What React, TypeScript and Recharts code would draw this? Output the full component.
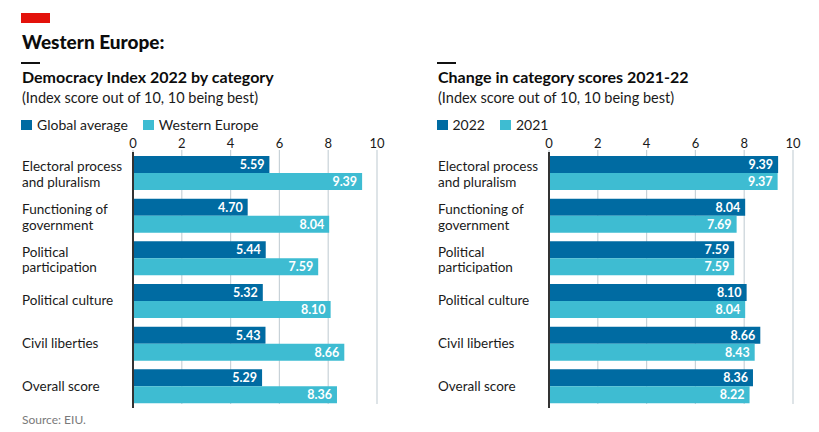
import { BarChart, Bar, XAxis, YAxis, CartesianGrid, Legend, LabelList, ReferenceLine } from 'recharts';

const categories: string[] = [
  'Electoral process and pluralism',
  'Functioning of government',
  'Political participation',
  'Political culture',
  'Civil liberties',
  'Overall score',
];

// how each category name is broken over lines on the axis
const categoryLines: string[][] = [
  ['Electoral process', 'and pluralism'],
  ['Functioning of', 'government'],
  ['Political', 'participation'],
  ['Political culture'],
  ['Civil liberties'],
  ['Overall score'],
];

const globalAverage: number[] = [5.59, 4.7, 5.44, 5.32, 5.43, 5.29];
const westernEurope: number[] = [9.39, 8.04, 7.59, 8.1, 8.66, 8.36];
const scores2022: number[] = [9.39, 8.04, 7.59, 8.1, 8.66, 8.36];
const scores2021: number[] = [9.37, 7.69, 7.59, 8.04, 8.43, 8.22];

const xTicks: number[] = [0, 2, 4, 6, 8, 10];

const DARK = '#006BA2';
const LIGHT = '#3EBCD2';
const FONT = 'Lato, "Open Sans", sans-serif';
const LEGEND_H = 14;

const leftData = categories.map((name, i) => ({ name, a: globalAverage[i], b: westernEurope[i] }));
const rightData = categories.map((name, i) => ({ name, a: scores2022[i], b: scores2021[i] }));

const CategoryTick = (props: any) => {
  const { y, payload } = props;
  const idx = categories.indexOf(payload.value);
  const lines = categoryLines[idx] || [payload.value];
  const first = lines.length > 1 ? y - 2 : y + 4;
  return (
    <text x={22} y={first} fill='#1a1a1a' fontSize={13.5} fontFamily={FONT} textAnchor='start'>
      {lines.map((l, k) => (
        <tspan key={k} x={22} y={first + k * 15.6}>
          {l}
        </tspan>
      ))}
    </text>
  );
};

const ValueTick = (props: any) => {
  const { x, y, payload } = props;
  return (
    <text x={x} y={y - 4} fill='#1a1a1a' fontSize={13} fontFamily={FONT} textAnchor='middle'>
      {payload.value}
    </text>
  );
};

const makeLegend = (names: string[]) => () => (
  <div style={{ display: 'flex', fontFamily: FONT, fontSize: 14, color: '#1a1a1a', lineHeight: `${LEGEND_H}px`, height: LEGEND_H }}>
    {names.map((n, i) => (
      <div key={n} style={{ display: 'flex', alignItems: 'center', marginRight: 15 }}>
        <span style={{ display: 'inline-block', width: 11, height: 10, background: i === 0 ? DARK : LIGHT, marginRight: 5 }} />
        <span>{n}</span>
      </div>
    ))}
  </div>
);

interface PanelProps {
  data: { name: string; a: number; b: number }[];
  legend: string[];
}

const Panel = ({ data, legend }: PanelProps) => (
  <BarChart
    width={404}
    height={432}
    data={data}
    layout='vertical'
    barSize={17}
    barGap={0}
    margin={{ top: 122 - LEGEND_H, right: 27, left: 0, bottom: 24 }}
  >
    <CartesianGrid horizontal={false} stroke='#c8d2d8' strokeWidth={1.2} y={150} height={254} />
    <XAxis
      type='number'
      orientation='top'
      domain={[0, 10]}
      ticks={xTicks}
      axisLine={false}
      tickLine={false}
      tickSize={0}
      tickMargin={0}
      tick={<ValueTick />}
      height={30}
    />
    <YAxis
      type='category'
      dataKey='name'
      width={133}
      axisLine={false}
      tickLine={false}
      tick={<CategoryTick />}
      interval={0}
    />
    <Legend
      verticalAlign='top'
      align='left'
      content={makeLegend(legend)}
      wrapperStyle={{ position: 'absolute', top: 118, left: 21, width: 360, height: LEGEND_H }}
    />
    <ReferenceLine x={0} stroke='#333333' strokeWidth={2} />
    <Bar dataKey='a' name={legend[0]} fill={DARK} isAnimationActive={false}>
      <LabelList
        dataKey='a'
        position='insideRight'
        offset={5}
        fill='#ffffff'
        fontSize={12.5}
        fontFamily={FONT}
        fontWeight={700}
        formatter={(v: any) => Number(v).toFixed(2)}
      />
    </Bar>
    <Bar dataKey='b' name={legend[1]} fill={LIGHT} isAnimationActive={false}>
      <LabelList
        dataKey='b'
        position='insideRight'
        offset={5}
        fill='#ffffff'
        fontSize={12.5}
        fontFamily={FONT}
        fontWeight={700}
        formatter={(v: any) => Number(v).toFixed(2)}
      />
    </Bar>
  </BarChart>
);

const Heading = ({ left, title, sub }: { left: number; title: string; sub: string }) => (
  <>
    <div style={{ position: 'absolute', left, top: 62, width: 19, height: 1.5, background: '#111' }} />
    <div style={{ position: 'absolute', left: left + 1, top: 67, fontFamily: FONT, fontWeight: 700, fontSize: 16, color: '#0c0c0c', whiteSpace: 'nowrap' }}>
      {title}
    </div>
    <div style={{ position: 'absolute', left: left + 1, top: 89, fontFamily: FONT, fontSize: 14.5, color: '#1a1a1a', whiteSpace: 'nowrap' }}>
      {sub}
    </div>
  </>
);

export default function App() {
  return (
    <div style={{ position: 'absolute', left: 0, top: 0, width: 819, height: 432, overflow: 'hidden', background: '#fff' }}>
      <div style={{ position: 'absolute', left: 21, top: 13, width: 29, height: 10, background: '#E3120B' }} />
      <div style={{ position: 'absolute', left: 22, top: 30, fontFamily: FONT, fontWeight: 900, fontSize: 19, color: '#0c0c0c' }}>
        Western Europe:
      </div>
      <Heading left={21} title='Democracy Index 2022 by category' sub='(Index score out of 10, 10 being best)' />
      <Heading left={437} title='Change in category scores 2021-22' sub='(Index score out of 10, 10 being best)' />
      <div style={{ position: 'absolute', left: 0, top: 0 }}>
        <Panel data={leftData} legend={['Global average', 'Western Europe']} />
      </div>
      <div style={{ position: 'absolute', left: 415.5, top: 0 }}>
        <Panel data={rightData} legend={['2022', '2021']} />
      </div>
      <div style={{ position: 'absolute', left: 22, top: 412, fontFamily: FONT, fontSize: 12, color: '#7a7a7a' }}>
        Source: EIU.
      </div>
    </div>
  );
}
